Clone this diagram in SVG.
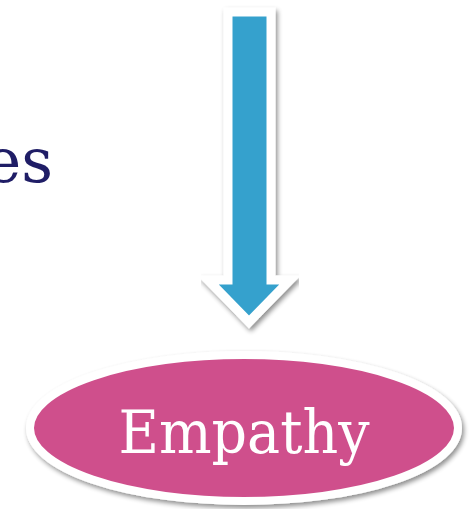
<svg xmlns="http://www.w3.org/2000/svg" width="474" height="509" viewBox="0 0 474 509">
<defs>
<filter id="sh" x="-10%" y="-10%" width="120%" height="130%">
<feGaussianBlur in="SourceAlpha" stdDeviation="2.5"/>
<feOffset dx="2" dy="3" result="b"/>
<feComponentTransfer><feFuncA type="linear" slope="0.45"/></feComponentTransfer>
<feMerge><feMergeNode/><feMergeNode in="SourceGraphic"/></feMerge>
</filter>
<style>
.lbl{font-family:"DejaVu Serif","Liberation Serif",serif;}
</style>
</defs>
<rect width="474" height="509" fill="#ffffff"/>
<g id="text-es">
<text class="lbl" x="53" y="182" text-anchor="end" font-size="62" fill="#1F1D66">es</text>
</g>
<g id="connectors">
<path d="M228 12 H271 V280 H290 L249 322 L208 280 H228 Z" fill="#35A1CD" stroke="#ffffff" stroke-width="9" stroke-linejoin="miter" filter="url(#sh)"/>
</g>
<g id="empathy">
<ellipse cx="244" cy="428" rx="214" ry="73" fill="#CF508C" stroke="#ffffff" stroke-width="8" filter="url(#sh)"/>
<text class="lbl" x="244" y="453" text-anchor="middle" font-size="60" fill="#ffffff" textLength="251" lengthAdjust="spacingAndGlyphs">Empathy</text>
</g>
</svg>
